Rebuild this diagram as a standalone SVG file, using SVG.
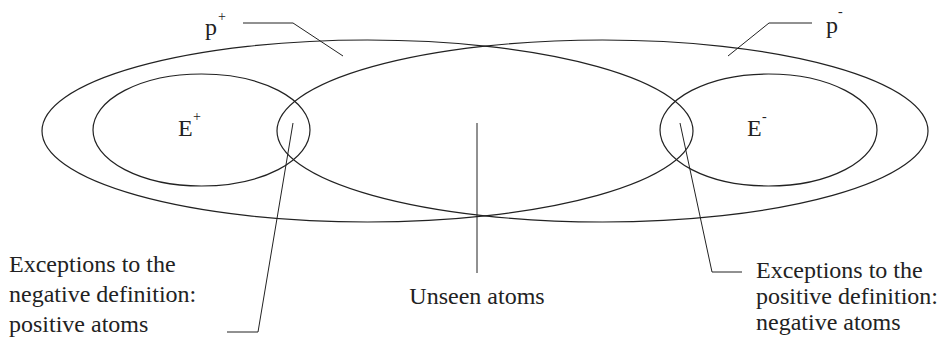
<svg xmlns="http://www.w3.org/2000/svg" width="941" height="343" viewBox="0 0 941 343">
<style>
.sh{fill:none;stroke:#222;stroke-width:1.2}
.ln{fill:none;stroke:#222;stroke-width:1}
text{font-family:"Liberation Serif","Times New Roman",serif;fill:#222;font-size:24px}
.sup{font-size:14px}
</style>
<rect width="941" height="343" fill="#fff"/>
<g id="p-plus-set"><ellipse class="sh" cx="367.5" cy="131" rx="325.5" ry="91"/></g>
<g id="p-minus-set"><ellipse class="sh" cx="602.5" cy="131" rx="325.5" ry="91"/></g>
<g id="E-plus"><ellipse class="sh" cx="201.5" cy="130" rx="108.5" ry="56"/><text x="178" y="136">E</text><text class="sup" x="193" y="121">+</text></g>
<g id="E-minus"><ellipse class="sh" cx="768.5" cy="130" rx="108.5" ry="56"/><text x="747" y="136">E</text><text class="sup" x="762" y="121">-</text></g>
<g id="label-p-plus"><text x="205" y="35">p</text><text class="sup" x="218" y="21">+</text></g>
<g id="label-p-minus"><text x="826" y="33">p</text><text class="sup" x="838" y="16">-</text></g>
<g id="label-unseen"><text x="477" y="304" text-anchor="middle">Unseen atoms</text></g>
<g id="label-exc-neg"><text x="9" y="272">Exceptions to the</text><text x="9" y="302">negative definition:</text><text x="9" y="332">positive atoms</text></g>
<g id="label-exc-pos"><text x="756" y="278">Exceptions to the</text><text x="756" y="304">positive definition:</text><text x="756" y="330">negative atoms</text></g>
<g id="connectors">
<path class="ln" d="M243,23 L293,23 L343,56"/>
<path class="ln" d="M728,56 L769,23 L812,23"/>
<path class="ln" d="M293,123 L258,332 L227,332"/>
<path class="ln" d="M680,123 L712,272 L742,272"/>
<path class="ln" d="M477,123 L477,273"/>
</g>
</svg>
